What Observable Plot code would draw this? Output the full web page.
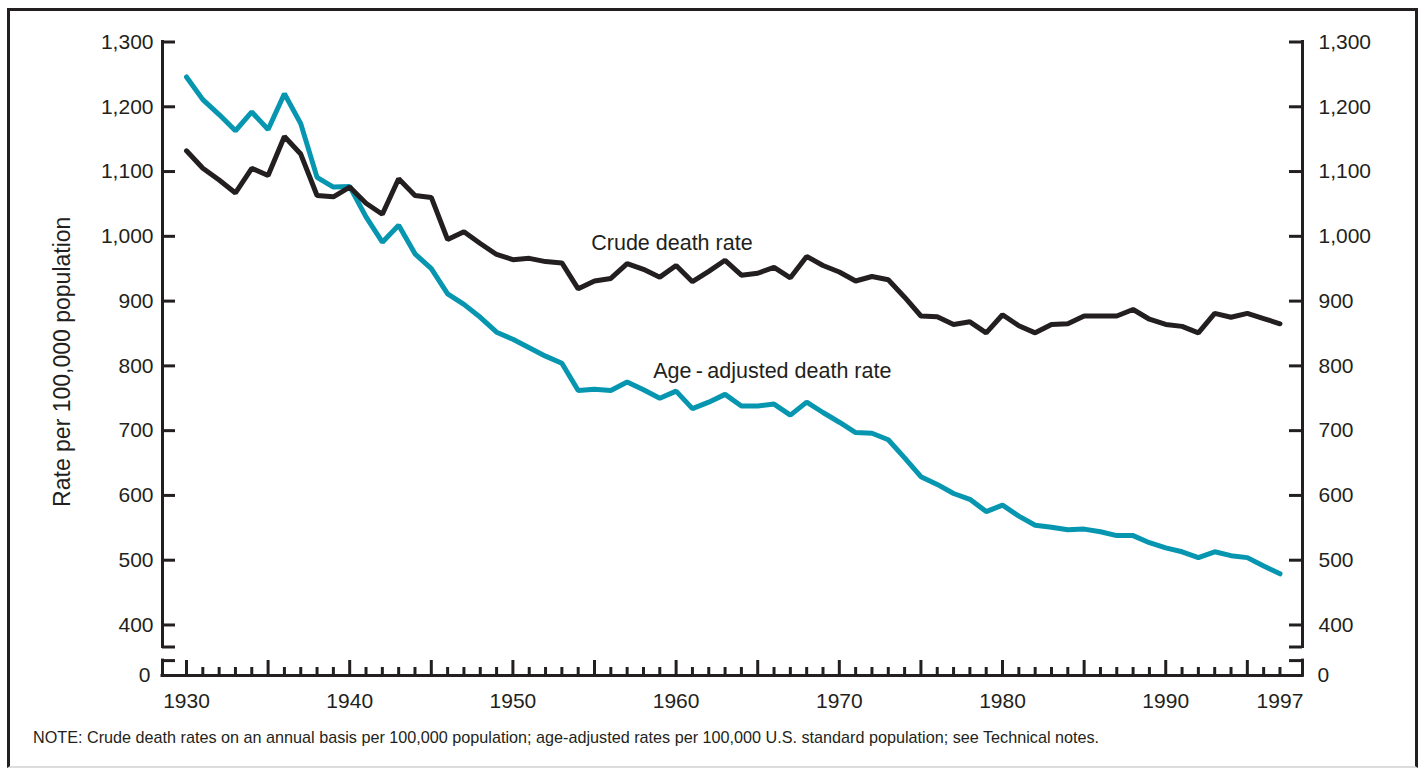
<!DOCTYPE html>
<html><head><meta charset="utf-8">
<script src="https://cdn.jsdelivr.net/npm/d3@7"></script>
<script src="https://cdn.jsdelivr.net/npm/@observablehq/plot@0.6"></script>
<style>
html,body{margin:0;padding:0;background:#fff;}
body{width:1424px;height:768px;position:relative;overflow:hidden;font-family:"Liberation Sans",Arial,Helvetica,sans-serif;}
#chart{position:absolute;left:0;top:0;}
#note{position:absolute;left:33px;top:728px;font-size:16.2px;color:#231f20;white-space:nowrap;}
#frame{position:absolute;left:7px;top:8px;width:1411px;height:760px;box-sizing:border-box;border:3px solid #231f20;border-bottom:2px solid #dcdcdc;pointer-events:none;}
</style></head>
<body>
<div id="chart"></div>
<div id="note">NOTE: Crude death rates on an annual basis per 100,000 population; age-adjusted rates per 100,000 U.S. standard population; see Technical notes.</div>
<div id="frame"></div>
<script>
const years = [1930,1931,1932,1933,1934,1935,1936,1937,1938,1939,
  1940,1941,1942,1943,1944,1945,1946,1947,1948,1949,
  1950,1951,1952,1953,1954,1955,1956,1957,1958,1959,
  1960,1961,1962,1963,1964,1965,1966,1967,1968,1969,
  1970,1971,1972,1973,1974,1975,1976,1977,1978,1979,
  1980,1981,1982,1983,1984,1985,1986,1987,1988,1989,
  1990,1991,1992,1993,1994,1995,1996,1997];
const crudeRate = [1132,1105,1087,1067,1105,1094,1154,1127,1063,1061,
  1076,1051,1034,1089,1063,1060,995,1007,989,972,
  964,966,961,959,919,931,935,958,949,937,
  955,930,946,963,940,943,952,936,969,955,
  945,931,938,933,906,877,876,864,868,851,
  879,862,851,864,865,877,877,877,887,872,
  864,861,851,881,875,881,873,865];
const ageAdjustedRate = [1246,1211,1188,1163,1192,1165,1220,1174,1091,1076,
  1077,1030,991,1017,973,950,911,895,875,852,
  841,828,815,804,762,764,762,775,763,750,
  761,734,744,756,738,738,741,724,744,728,
  713,697,696,686,658,629,617,603,594,575,
  585,568,554,551,547,548,544,538,538,527,
  519,513,504,513,507,504,491,479];
const yTickValues = [400,500,600,700,800,900,1000,1100,1200,1300];
const xLabelYears = [1930,1940,1950,1960,1970,1980,1990,1997];
const seriesLabels = [
  {label: "Crude death rate", year: 1954.8, value: 989},
  {label: "Age\u2009-\u2009adjusted death rate", year: 1958.6, value: 792}
];
const yTitle = "Rate per 100,000 population";

const ink = "#231f20", teal = "#0796b0";
const xDomain = [1928.53, 1998.38];
const yZero = 322;      // broken-axis baseline, labelled 0
const breakHi = 366, breakLo = 345;

const W = 1424, H = 720, mL = 162, mR = 122, mT = 41.5, mB = 45;
const innerW = W - mL - mR, innerH = H - mT - mB;
const font = "'Liberation Sans', Arial, Helvetica, sans-serif";

const crude = years.map((y, i) => ({year: y, value: crudeRate[i]}));
const adj = years.map((y, i) => ({year: y, value: ageAdjustedRate[i]}));
const major = years.filter(y => y % 5 === 0);
const minor = years.filter(y => y % 5 !== 0);
const axisStyle = {stroke: ink, strokeWidth: 3};
const tickFont = 21;

const chart = Plot.plot({
  width: W, height: H,
  marginLeft: mL, marginRight: mR, marginTop: mT, marginBottom: mB,
  x: {domain: xDomain, axis: null},
  y: {domain: [yZero, 1300], axis: null},
  style: {fontFamily: font, color: ink, background: "transparent", overflow: "visible"},
  marks: [
    // axes lines with break
    Plot.ruleY([yZero], {...axisStyle, strokeLinecap: "square"}),
    Plot.ruleX([xDomain[0]], {y1: breakHi, y2: 1300, ...axisStyle, strokeLinecap: "square"}),
    Plot.ruleX([xDomain[0]], {y1: yZero, y2: breakLo, ...axisStyle, strokeLinecap: "square"}),
    Plot.ruleX([xDomain[1]], {y1: breakHi, y2: 1300, ...axisStyle, strokeLinecap: "square"}),
    Plot.ruleX([xDomain[1]], {y1: yZero, y2: breakLo, ...axisStyle, strokeLinecap: "square"}),
    Plot.tickY([...yTickValues, breakHi, breakLo], {y: d => d, ...axisStyle, insetRight: innerW - 13}),
    Plot.tickY([...yTickValues, breakHi, breakLo], {y: d => d, ...axisStyle, insetLeft: innerW - 13}),
    Plot.tickX(major, {x: d => d, ...axisStyle, insetTop: innerH - 15}),
    Plot.tickX(minor, {x: d => d, ...axisStyle, insetTop: innerH - 8}),
    // tick labels
    Plot.text(yTickValues, {x: xDomain[0], y: d => d, text: d3.format(","), textAnchor: "end", dx: -9, fontSize: tickFont, fill: ink}),
    Plot.text(yTickValues, {x: xDomain[1], y: d => d, text: d3.format(","), textAnchor: "start", dx: 16, fontSize: tickFont, fill: ink}),
    Plot.text([yZero], {x: xDomain[0], y: d => d, text: () => "0", textAnchor: "end", dx: -12, fontSize: tickFont, fill: ink}),
    Plot.text([yZero], {x: xDomain[1], y: d => d, text: () => "0", textAnchor: "start", dx: 15, fontSize: tickFont, fill: ink}),
    Plot.text(xLabelYears, {x: d => d, y: yZero, text: d => String(d), dy: 26, fontSize: tickFont, fill: ink}),
    // y title
    Plot.text([yTitle], {frameAnchor: "left", textAnchor: "middle", rotate: -90, dx: -100, dy: 3, fontSize: 23, fill: ink}),
    // data
    Plot.line(adj, {x: "year", y: "value", stroke: teal, strokeWidth: 5, strokeLinejoin: "miter"}),
    Plot.line(crude, {x: "year", y: "value", stroke: ink, strokeWidth: 5, strokeLinejoin: "miter"}),
    // series labels
    Plot.text(seriesLabels, {x: "year", y: "value", text: "label", textAnchor: "start", fontSize: 21.5, fill: ink})
  ]
});
document.getElementById("chart").appendChild(chart);
</script>
</body></html>
